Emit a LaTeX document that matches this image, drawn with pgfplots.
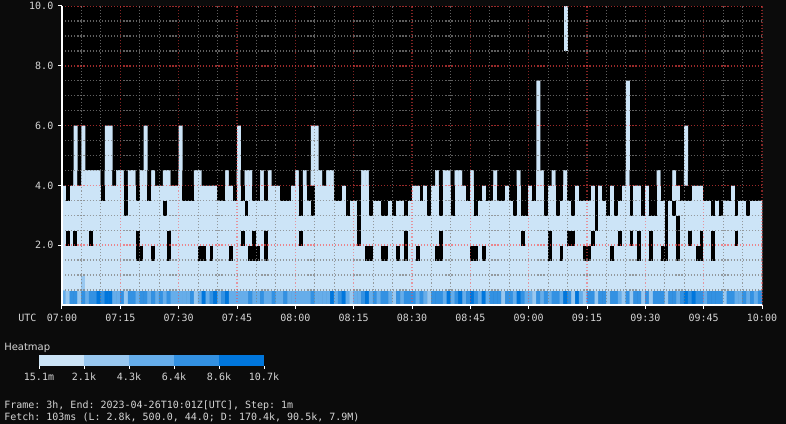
\documentclass[border=0pt]{standalone}
\usepackage{fontspec}
\setmonofont{DejaVu Sans Mono}
\newfontfamily\dvsans{DejaVu Sans}
\usepackage{pgfplots}
\usepackage{pgfplotstable}
\pgfplotsset{compat=1.18}
\definecolor{bgc}{RGB}{11,11,11}
\definecolor{hc1}{RGB}{204,228,247}
\definecolor{hc2}{RGB}{153,200,240}
\definecolor{hc3}{RGB}{102,173,234}
\definecolor{hc4}{RGB}{51,145,226}
\definecolor{hc5}{RGB}{0,118,220}
\definecolor{txt}{RGB}{214,214,214}
\definecolor{gmaj}{RGB}{255,70,70}
\definecolor{gmin}{RGB}{128,128,128}
\def\monof{\ttfamily\fontsize{7.5pt}{9pt}\selectfont}
\tikzset{
  majg/.style={draw=gmaj, line width=0.9pt, dash pattern=on 0.8pt off 1.5pt, opacity=0.5},
  ming/.style={draw=gmin, line width=0.9pt, dash pattern=on 0.8pt off 1.5pt, opacity=0.75},
  hmajg/.style={draw=gmaj, line width=1.1pt, dash pattern=on 0.9pt off 1.4pt, opacity=0.6},
  hming/.style={draw=gmin, line width=1.1pt, dash pattern=on 0.9pt off 1.4pt, opacity=0.75},
}
% heatmap cells: rows 0..8 (buckets of 0.5), 180 one-minute columns each
% 0 = empty, 1..5 = colour bucket
\pgfplotstableread[header=false,row sep=\\]{
% row 0 (0-0.5)
3\\2\\4\\4\\2\\4\\3\\4\\4\\5\\
4\\5\\5\\3\\3\\4\\2\\4\\4\\3\\
4\\4\\3\\4\\3\\4\\3\\4\\3\\3\\
3\\3\\3\\4\\2\\3\\5\\3\\4\\5\\
3\\4\\5\\3\\3\\3\\3\\3\\4\\3\\
3\\4\\3\\3\\4\\3\\3\\4\\3\\3\\
3\\3\\3\\3\\4\\3\\3\\3\\3\\5\\
3\\4\\5\\3\\2\\3\\3\\4\\5\\3\\
4\\3\\4\\4\\3\\2\\4\\3\\4\\4\\
4\\3\\4\\3\\2\\4\\4\\4\\3\\5\\
3\\4\\5\\3\\4\\5\\4\\3\\5\\3\\
4\\4\\4\\2\\4\\4\\3\\5\\4\\3\\
3\\2\\4\\3\\4\\3\\4\\4\\3\\5\\
4\\2\\5\\3\\2\\4\\4\\2\\4\\4\\
2\\4\\4\\3\\2\\4\\2\\4\\4\\2\\
4\\2\\4\\4\\4\\2\\4\\4\\3\\4\\
5\\4\\5\\4\\4\\3\\4\\4\\4\\4\\
2\\4\\4\\3\\3\\4\\3\\4\\3\\4\\
% row 1 (0.5-1)
1\\1\\1\\1\\1\\2\\1\\1\\1\\1\\
1\\1\\1\\1\\1\\1\\1\\1\\1\\1\\
1\\1\\1\\1\\1\\1\\1\\1\\1\\1\\
1\\1\\1\\1\\1\\1\\1\\1\\1\\1\\
1\\1\\1\\1\\1\\1\\1\\1\\1\\1\\
1\\1\\1\\1\\1\\1\\1\\1\\1\\1\\
1\\1\\1\\1\\1\\1\\1\\1\\1\\1\\
1\\1\\1\\1\\1\\1\\1\\1\\1\\1\\
1\\1\\1\\1\\1\\1\\1\\1\\1\\1\\
1\\1\\1\\1\\1\\1\\1\\1\\1\\1\\
1\\1\\1\\1\\1\\1\\1\\1\\1\\1\\
1\\1\\1\\1\\1\\1\\1\\1\\1\\1\\
1\\1\\1\\1\\1\\1\\1\\1\\1\\1\\
1\\1\\1\\1\\1\\1\\1\\1\\1\\1\\
1\\1\\1\\1\\1\\1\\1\\1\\1\\1\\
1\\1\\1\\1\\1\\1\\1\\1\\1\\1\\
1\\1\\1\\1\\1\\1\\1\\1\\1\\1\\
1\\1\\1\\1\\1\\1\\1\\1\\1\\1\\
% row 2 (1-1.5)
1\\1\\1\\1\\1\\1\\1\\1\\1\\1\\
1\\1\\1\\1\\1\\1\\1\\1\\1\\1\\
1\\1\\1\\1\\1\\1\\1\\1\\1\\1\\
1\\1\\1\\1\\1\\1\\1\\1\\1\\1\\
1\\1\\1\\1\\1\\1\\1\\1\\1\\1\\
1\\1\\1\\1\\1\\1\\1\\1\\1\\1\\
1\\1\\1\\1\\1\\1\\1\\1\\1\\1\\
1\\1\\1\\1\\1\\1\\1\\1\\1\\1\\
1\\1\\1\\1\\1\\1\\1\\1\\1\\1\\
1\\1\\1\\1\\1\\1\\1\\1\\1\\1\\
1\\1\\1\\1\\1\\1\\1\\1\\1\\1\\
1\\1\\1\\1\\1\\1\\1\\1\\1\\1\\
1\\1\\1\\1\\1\\1\\1\\1\\1\\1\\
1\\1\\1\\1\\1\\1\\1\\1\\1\\1\\
1\\1\\1\\1\\1\\1\\1\\1\\1\\1\\
1\\1\\1\\1\\1\\1\\1\\1\\1\\1\\
1\\1\\1\\1\\1\\1\\1\\1\\1\\1\\
1\\1\\1\\1\\1\\1\\1\\1\\1\\1\\
% row 3 (1.5-2)
1\\1\\1\\1\\1\\1\\1\\1\\1\\1\\
1\\1\\1\\1\\1\\1\\1\\1\\1\\0\\
0\\1\\1\\0\\1\\1\\1\\0\\1\\1\\
1\\1\\1\\1\\1\\0\\0\\1\\0\\1\\
1\\1\\1\\0\\1\\1\\1\\1\\0\\0\\
0\\1\\0\\1\\1\\1\\1\\1\\1\\1\\
1\\1\\1\\1\\1\\1\\1\\1\\1\\1\\
1\\1\\1\\1\\1\\1\\1\\1\\0\\0\\
1\\1\\0\\0\\1\\1\\0\\1\\0\\1\\
1\\0\\1\\1\\1\\1\\0\\0\\1\\1\\
1\\1\\1\\1\\1\\0\\0\\1\\0\\1\\
1\\1\\1\\1\\1\\1\\1\\1\\1\\1\\
1\\1\\1\\1\\1\\0\\1\\1\\0\\1\\
1\\1\\1\\1\\0\\0\\1\\1\\1\\1\\
1\\0\\1\\1\\1\\1\\1\\1\\0\\1\\
1\\0\\1\\1\\0\\0\\1\\1\\0\\1\\
1\\1\\1\\0\\0\\1\\1\\0\\1\\1\\
1\\1\\1\\1\\1\\1\\1\\1\\1\\1\\
% row 4 (2-2.5)
1\\0\\1\\0\\1\\1\\1\\0\\1\\1\\
1\\1\\1\\1\\1\\1\\1\\1\\1\\0\\
1\\1\\1\\1\\1\\1\\1\\0\\1\\1\\
1\\1\\1\\1\\1\\1\\1\\1\\1\\1\\
1\\1\\1\\1\\1\\1\\0\\1\\1\\0\\
1\\1\\0\\1\\1\\1\\1\\1\\1\\1\\
1\\0\\1\\1\\1\\1\\1\\1\\1\\1\\
1\\1\\1\\1\\1\\1\\0\\1\\1\\1\\
1\\1\\1\\1\\1\\1\\1\\1\\0\\1\\
1\\1\\1\\1\\1\\1\\1\\0\\1\\1\\
1\\1\\1\\1\\1\\1\\1\\1\\1\\1\\
1\\1\\1\\1\\1\\1\\1\\1\\0\\1\\
1\\1\\1\\1\\1\\0\\1\\1\\1\\1\\
0\\0\\1\\1\\1\\1\\0\\1\\1\\1\\
1\\1\\1\\0\\1\\1\\0\\1\\0\\1\\
1\\0\\1\\1\\1\\0\\1\\1\\0\\1\\
1\\0\\1\\1\\0\\1\\1\\0\\1\\1\\
1\\1\\1\\0\\1\\1\\1\\1\\1\\1\\
% row 5 (2.5-3)
1\\1\\1\\1\\1\\1\\1\\1\\1\\1\\
1\\1\\1\\1\\1\\1\\1\\1\\1\\1\\
1\\1\\1\\1\\1\\1\\1\\1\\1\\1\\
1\\1\\1\\1\\1\\1\\1\\1\\1\\1\\
1\\1\\1\\1\\1\\1\\1\\1\\1\\1\\
1\\1\\1\\1\\1\\1\\1\\1\\1\\1\\
1\\1\\1\\1\\1\\1\\1\\1\\1\\1\\
1\\1\\1\\1\\1\\1\\0\\1\\1\\1\\
1\\1\\1\\1\\1\\1\\1\\1\\1\\1\\
1\\1\\1\\1\\1\\1\\1\\1\\1\\1\\
1\\1\\1\\1\\1\\1\\1\\1\\1\\1\\
1\\1\\1\\1\\1\\1\\1\\1\\1\\1\\
1\\1\\1\\1\\1\\1\\1\\1\\1\\1\\
1\\1\\1\\1\\1\\1\\1\\0\\1\\1\\
1\\1\\1\\1\\1\\1\\1\\1\\1\\1\\
1\\1\\1\\1\\1\\0\\1\\1\\0\\1\\
1\\1\\1\\1\\1\\1\\1\\1\\1\\1\\
1\\1\\1\\1\\1\\1\\1\\1\\1\\1\\
% row 6 (3-3.5)
1\\1\\1\\1\\1\\1\\1\\1\\1\\1\\
1\\1\\1\\1\\1\\1\\0\\1\\1\\1\\
1\\1\\1\\1\\1\\1\\0\\1\\1\\1\\
1\\1\\1\\1\\1\\1\\1\\1\\1\\1\\
1\\1\\1\\1\\1\\1\\1\\0\\1\\1\\
1\\1\\1\\1\\1\\1\\1\\1\\1\\1\\
1\\0\\1\\1\\0\\1\\1\\1\\1\\1\\
1\\1\\1\\0\\1\\1\\0\\1\\1\\0\\
1\\1\\0\\0\\1\\0\\1\\1\\0\\1\\
1\\1\\1\\1\\0\\1\\1\\0\\1\\1\\
0\\1\\1\\1\\1\\1\\0\\1\\1\\1\\
1\\1\\1\\1\\1\\1\\0\\1\\0\\0\\
1\\1\\1\\1\\0\\1\\1\\0\\1\\1\\
1\\0\\1\\1\\1\\1\\1\\0\\1\\1\\
0\\1\\0\\1\\1\\1\\0\\1\\1\\0\\
1\\0\\0\\1\\1\\0\\1\\0\\1\\1\\
1\\1\\1\\1\\1\\1\\1\\0\\1\\0\\
1\\1\\1\\0\\1\\1\\0\\1\\1\\1\\
% row 7 (3.5-4)
1\\0\\1\\1\\1\\1\\1\\1\\1\\1\\
0\\1\\1\\1\\1\\1\\0\\1\\1\\0\\
1\\1\\0\\1\\1\\1\\1\\1\\1\\1\\
1\\0\\0\\0\\1\\1\\1\\1\\1\\1\\
0\\0\\1\\1\\0\\1\\0\\1\\1\\0\\
0\\1\\0\\1\\1\\1\\0\\0\\0\\1\\
1\\0\\1\\0\\0\\1\\1\\1\\1\\1\\
0\\0\\1\\0\\0\\0\\0\\1\\1\\0\\
0\\0\\0\\0\\0\\0\\0\\0\\0\\0\\
1\\1\\0\\1\\0\\1\\1\\0\\1\\1\\
0\\1\\1\\1\\0\\1\\0\\0\\1\\0\\
0\\1\\0\\0\\1\\0\\0\\1\\0\\0\\
1\\0\\1\\1\\0\\1\\1\\0\\0\\1\\
0\\0\\1\\0\\0\\0\\1\\0\\1\\0\\
0\\1\\0\\0\\1\\1\\0\\1\\1\\0\\
1\\0\\0\\1\\0\\0\\0\\1\\1\\0\\
0\\0\\1\\1\\1\\0\\0\\0\\0\\0\\
0\\0\\1\\0\\0\\0\\0\\0\\0\\0\\
% row 8 (4-4.5)
0\\0\\0\\1\\0\\1\\1\\1\\1\\1\\
0\\1\\1\\0\\1\\1\\0\\1\\1\\0\\
1\\1\\0\\1\\0\\0\\1\\1\\0\\0\\
1\\0\\0\\0\\1\\1\\0\\0\\0\\0\\
0\\0\\1\\0\\0\\1\\0\\1\\1\\0\\
0\\1\\0\\1\\0\\0\\0\\0\\0\\0\\
1\\0\\1\\0\\1\\1\\1\\0\\1\\1\\
0\\0\\0\\0\\0\\0\\0\\1\\1\\0\\
0\\0\\0\\0\\0\\0\\0\\0\\0\\0\\
0\\0\\0\\0\\0\\0\\1\\0\\1\\1\\
0\\1\\1\\0\\0\\1\\0\\0\\0\\0\\
0\\1\\0\\0\\0\\0\\0\\1\\0\\0\\
0\\0\\1\\1\\0\\0\\1\\0\\0\\1\\
0\\0\\0\\0\\0\\0\\0\\0\\0\\0\\
0\\0\\0\\0\\0\\1\\0\\0\\0\\0\\
0\\0\\0\\1\\0\\0\\0\\1\\0\\0\\
1\\0\\0\\0\\0\\0\\0\\0\\0\\0\\
0\\0\\0\\0\\0\\0\\0\\0\\0\\0\\
}\hm
% columns whose cells reach above 4.5
\pgfplotstableread{
x top
3.5 6
5.5 6
11.5 6
12.5 6
21.5 6
30.5 6
45.5 6
64.5 6
65.5 6
122.5 7.5
145.5 7.5
160.5 6
}\spikes
\begin{document}
\begin{tikzpicture}
\useasboundingbox (0,0) rectangle (589.5pt,318pt);
\fill[bgc] (0,0) rectangle (589.5pt,318pt);
\begin{axis}[
  at={(46.5pt,89.25pt)}, anchor=south west,
  width=525pt, height=224.25pt, scale only axis,
  xmin=0, xmax=180, ymin=0, ymax=10,
  axis background/.style={fill=black},
  axis on top,
  axis lines*=left,
  axis line style={white, line width=0.9pt},
  xtick={0,15,...,180},
  xticklabels={07:00,07:15,07:30,07:45,08:00,08:15,08:30,08:45,09:00,09:15,09:30,09:45,10:00},
  ytick={2,4,6,8,10},
  yticklabels={2.0,4.0,6.0,8.0,10.0},
  minor xtick={5,10,20,25,35,40,50,55,65,70,80,85,95,100,110,115,125,130,140,145,155,160,170,175},
  xmajorgrids=true, xminorgrids=true,
  ymajorgrids=false, yminorgrids=false,
  major grid style={majg},
  minor grid style={ming},
  tick align=outside,
  major tick length=3pt, minor tick length=0pt,
  tick style={white, line width=0.75pt},
  tick label style={font=\monof, text=txt},
  colormap={hm}{rgb255=(0,0,0) rgb255=(204,228,247) rgb255=(153,200,240) rgb255=(102,173,234) rgb255=(51,145,226) rgb255=(0,118,220)},
  colormap access=direct,
]
\addplot[ybar, bar width=1, fill=hc1, draw=none] table[x=x, y=top] {\spikes};
\addplot[fill=hc1, draw=none] coordinates {(129,8.5) (130,8.5) (130,10) (129,10)} -- cycle;
\addplot[matrix plot*, mesh/cols=180, mesh/rows=9, point meta=explicit]
  table[x index=0, y index=0, meta index=0, x expr={mod(\coordindex,180)+0.5}, y expr={0.25+0.5*floor((\coordindex+0.5)/180)}] {\hm};
% horizontal grid lines
\pgfplotsinvokeforeach{0.5,1,1.5,2.5,3,3.5,4.5,5,5.5,6.5,7,7.5,8.5,9,9.5}{
  \draw[hming] (axis cs:0,#1) -- (axis cs:180,#1);
}
\pgfplotsinvokeforeach{2,4,6,8,9.98}{
  \draw[hmajg] (axis cs:0,#1) -- (axis cs:180,#1);
}
\end{axis}
\node[anchor=base west, inner sep=0, font=\monof, text=txt] at (13.5pt,76.8pt) {UTC};
\node[anchor=base west, inner sep=0, font=\dvsans\fontsize{7.5pt}{9pt}\selectfont, text=txt] at (3pt,55pt) {Heatmap};
\fill[hc1] (29.25pt,43.5pt) rectangle (63pt,51.75pt);
\fill[hc2] (63pt,43.5pt) rectangle (96.75pt,51.75pt);
\fill[hc3] (96.75pt,43.5pt) rectangle (130.5pt,51.75pt);
\fill[hc4] (130.5pt,43.5pt) rectangle (164.25pt,51.75pt);
\fill[hc5] (164.25pt,43.5pt) rectangle (198pt,51.75pt);
\foreach \xx/\lab in {29.25/15.1m,63/2.1k,96.75/4.3k,130.5/6.4k,164.25/8.6k,198/10.7k}{
  \draw[white, line width=0.75pt] (\xx pt,43.5pt) -- (\xx pt,41.25pt);
  \node[anchor=base, inner sep=0, font=\monof, text=txt] at (\xx pt,32.6pt) {\lab};
}
\node[anchor=base west, inner sep=0, font=\monof, text=txt] at (3pt,11.8pt) {Frame: 3h, End: 2023-04-26T10:01Z[UTC], Step: 1m};
\node[anchor=base west, inner sep=0, font=\monof, text=txt] at (3pt,2.8pt) {Fetch: 103ms (L: 2.8k, 500.0, 44.0; D: 170.4k, 90.5k, 7.9M)};
\end{tikzpicture}
\end{document}
